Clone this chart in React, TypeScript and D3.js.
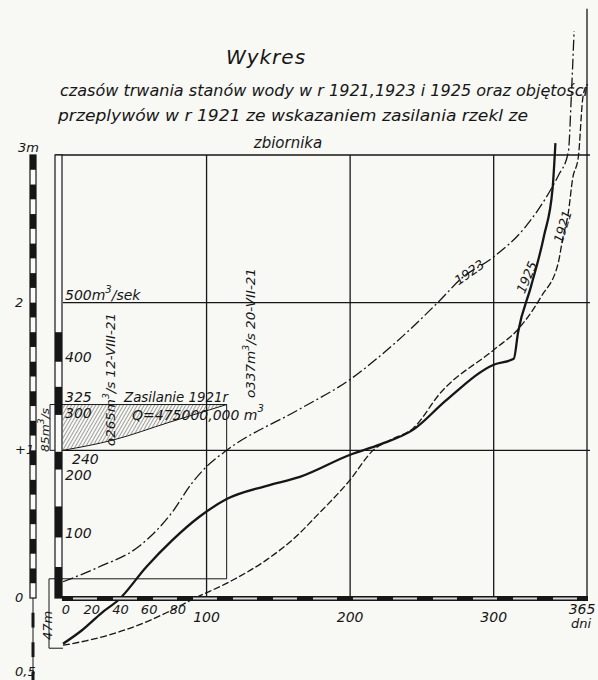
import React from "react";
import * as d3 from "d3";

// curves: water stage (m) against duration (days)
const days1923 = [0, 25, 53, 76, 90, 100, 114, 165, 200, 221, 263, 277, 300, 321, 340, 345, 352, 354, 356]
const stage1923 = [0.11, 0.21, 0.35, 0.58, 0.78, 0.89, 1.0, 1.28, 1.48, 1.64, 2.02, 2.16, 2.31, 2.5, 2.77, 2.86, 3.02, 3.38, 3.84]

const days1925 = [0, 13, 27, 39, 58, 76, 95, 114, 142, 165, 200, 221, 244, 267, 300, 314, 317, 326, 335, 341, 343]
const stage1925 = [-0.31, -0.22, -0.1, -0.01, 0.21, 0.39, 0.55, 0.67, 0.76, 0.82, 0.97, 1.04, 1.14, 1.34, 1.58, 1.62, 1.8, 2.11, 2.45, 2.77, 3.08]

const days1921 = [0, 16, 48, 72, 90, 118, 142, 165, 174, 200, 216, 228, 244, 263, 300, 317, 333, 345, 348, 352, 355, 359, 362, 364]
const stage1921 = [-0.32, -0.29, -0.2, -0.1, -0.01, 0.12, 0.26, 0.44, 0.53, 0.8, 1.0, 1.07, 1.15, 1.39, 1.68, 1.82, 2.04, 2.27, 2.43, 2.61, 2.84, 2.99, 3.38, 3.46]

// reservoir supply 1921 (hatched)
const supplyDays = [0, 35, 74, 114]
const supplyStage = [1.0, 1.07, 1.19, 1.31]
const supplyTop = 1.31
const supplyEnd = 114
const boxBottom = 0.13

const dayTicks = [0, 20, 40, 60, 80, 100, 200, 300, 365]
const gridDays = [100, 200, 300, 365]
const gridStages = [1, 2, 3]

const gaugeLabels = ["3m", "2", "+1", "0", "0,5"]
const gaugeStages = [3, 2, 1, 0, -0.5]

const qLabels = ["400", "325", "300", "240", "200", "100"]
const qStages = [1.64, 1.37, 1.26, 0.95, 0.84, 0.45]

// black parts of the discharge bar, in metres of stage
const qBarBlack = [[1.6, 1.8], [1.24, 1.43], [0.87, 0.99], [0.41, 0.62], [0, 0.21]]

const font = "'DejaVu Sans', sans-serif"
const ink = "#161616"

function App() {
    const width = 598
    const height = 680

    const x = d3.scaleLinear().domain([0, 365]).range([63, 587])
    const y = d3.scaleLinear().domain([0, 3]).range([598, 155])

    const line = d3.line().x(d => x(d[0])).y(d => y(d[1])).curve(d3.curveMonotoneX)
    const pts = (ds, ss) => ds.map((d, i) => [d, ss[i]])

    const hatchArea = d3.line().x(d => x(d[0])).y(d => y(d[1]))
    const supplyLine = d3.line().x(d => x(d[0])).y(d => y(d[1])).curve(d3.curveMonotoneX)

    const x0 = x(0)
    const txt = { fontFamily: font, fontStyle: "italic", fill: ink }

    // gauge staff segments every 0.1 m
    const staff = d3.range(0, 30).map(i => i / 10)
    const staffLow = d3.range(-0.9, 0, 0.1)

    return (
        <svg width={width} height={height} style={{ position: "absolute", left: 0, top: 0, background: "#f8f8f5" }}>
            <defs>
                <pattern id="hatch" width="3" height="3" patternUnits="userSpaceOnUse" patternTransform="rotate(30)">
                    <line x1="0" y1="0" x2="0" y2="3" stroke="#333" strokeWidth="0.9" />
                </pattern>
            </defs>

            {/* title */}
            <text x={266} y={64} style={{ ...txt, fontSize: 20, letterSpacing: 1 }} textAnchor="middle">Wykres</text>
            <text x={60} y={96} style={{ ...txt, fontSize: 15 }} textLength={528} lengthAdjust="spacingAndGlyphs">czasów trwania stanów wody w r 1921,1923 i 1925 oraz objętości</text>
            <text x={58} y={121} style={{ ...txt, fontSize: 15 }} textLength={470} lengthAdjust="spacingAndGlyphs">przeplywów w r 1921 ze wskazaniem  zasilania rzekl ze</text>
            <text x={288} y={148} style={{ ...txt, fontSize: 15 }} textAnchor="middle">zbiornika</text>

            {/* hatched supply */}
            <path d={hatchArea([[0, supplyTop], [supplyEnd, supplyTop], ...pts(supplyDays, supplyStage).reverse()])} fill="url(#hatch)" stroke="none" />
            <path d={supplyLine(pts(supplyDays, supplyStage))} fill="none" stroke={ink} strokeWidth={1} />

            {/* grid */}
            {gridStages.map(s => <line key={"h" + s} x1={s === 3 ? 55 : x0} x2={x(365) + 3} y1={y(s)} y2={y(s)} stroke={ink} strokeWidth={1.3} />)}
            {gridDays.map(d => <line key={"v" + d} x1={x(d)} x2={x(d)} y1={d === 365 ? y(3.99) : y(3)} y2={y(0)} stroke={ink} strokeWidth={1.3} />)}

            {/* supply box and brackets */}
            <path d={`M${x0},${y(supplyTop)} H${x(supplyEnd)} V${y(boxBottom)} H49 V${y(boxBottom - 0.47)} H${x0}`} fill="none" stroke={ink} strokeWidth={1} />
            <path d={`M${x0},${y(supplyTop)} H50 V${y(1)} H${x0}`} fill="none" stroke={ink} strokeWidth={1} />

            {/* curves */}
            <path d={line(pts(days1923, stage1923))} fill="none" stroke={ink} strokeWidth={1.3} strokeDasharray="11,3,2,3" />
            <path d={line(pts(days1921, stage1921))} fill="none" stroke={ink} strokeWidth={1.3} strokeDasharray="7,2.5" />
            <path d={line(pts(days1925, stage1925))} fill="none" stroke={ink} strokeWidth={2.3} />

            {/* bottom axis bar */}
            <rect x={x0 - 1} y={596} width={x(365) - x0 + 2} height={5} fill={ink} />
            <line x1={x0 + 10} x2={x(365) - 4} y1={598.5} y2={598.5} stroke="#d8d8d8" strokeWidth={2} strokeDasharray="24,16" />

            {/* discharge bar */}
            <rect x={55} y={y(3)} width={7} height={y(0) - y(3)} fill="#fafafa" stroke={ink} strokeWidth={1.2} />
            {qBarBlack.map((b, i) => <rect key={"q" + i} x={55} y={y(b[1])} width={7} height={y(b[0]) - y(b[1])} fill={ink} />)}

            {/* gauge staff */}
            <rect x={30} y={y(3)} width={6} height={y(0) - y(3)} fill="#fafafa" stroke={ink} strokeWidth={1.2} />
            {staff.map((s, i) => i % 2 === 0 ? null :
                <rect key={"s" + i} x={30} y={y(s + 0.1)} width={6} height={y(s) - y(s + 0.1)} fill={ink} />)}
            <line x1={33} x2={33} y1={y(0)} y2={height} stroke={ink} strokeWidth={1} />
            {staffLow.map((s, i) => i % 2 === 0 ? null :
                <rect key={"l" + i} x={31.5} y={y(s + 0.1)} width={3} height={y(s) - y(s + 0.1)} fill={ink} />)}

            {/* gauge labels */}
            {gaugeLabels.map((l, i) => <text key={l} x={l === "3m" ? 18 : 15} y={y(gaugeStages[i]) + (i === 0 ? -3 : 4)} style={{ ...txt, fontSize: 13 }}>{l}</text>)}

            {/* discharge labels */}
            <text x={65} y={y(2) - 3} style={{ ...txt, fontSize: 14 }}>500m<tspan dy={-7} fontSize={10}>3</tspan><tspan dy={7}>/sek</tspan></text>
            {qLabels.map((l, i) => <text key={l} x={l === "240" ? 72 : 65} y={y(qStages[i]) + 6} style={{ ...txt, fontSize: 14 }}>{l}</text>)}

            {/* day labels */}
            {dayTicks.map(d => <text key={"d" + d} x={d === 0 ? x(d) + 3 : d === 365 ? x(d) - 5 : x(d)} y={d >= 100 && d < 365 ? 622 : 614}
                textAnchor="middle" style={{ ...txt, fontSize: d >= 100 ? 14 : 13 }}>{d}</text>)}
            <text x={x(365) - 6} y={628} textAnchor="middle" style={{ ...txt, fontSize: 13 }}>dni</text>

            {/* annotations */}
            <text x={124} y={402} style={{ ...txt, fontSize: 14 }} textLength={104} lengthAdjust="spacingAndGlyphs">Zasilanie 1921r</text>
            <text x={132} y={420} style={{ ...txt, fontSize: 14 }}>Q=475000,000 m<tspan dy={-8} fontSize={10}>3</tspan></text>

            <text transform="translate(115,446) rotate(-90)" style={{ ...txt, fontSize: 13 }} textLength={133} lengthAdjust="spacingAndGlyphs">o265m<tspan dy={-6} fontSize={9}>3</tspan><tspan dy={6}>/s 12-VIII-21</tspan></text>
            <text transform="translate(255,398) rotate(-90)" style={{ ...txt, fontSize: 13 }} textLength={130} lengthAdjust="spacingAndGlyphs">o337m<tspan dy={-6} fontSize={9}>3</tspan><tspan dy={6}>/s 20-VII-21</tspan></text>
            <text transform="translate(49,452) rotate(-90)" style={{ ...txt, fontSize: 11 }} textLength={44} lengthAdjust="spacingAndGlyphs">85m<tspan dy={-5} fontSize={8}>3</tspan><tspan dy={5}>/s</tspan></text>
            <text transform="translate(52,640) rotate(-90)" style={{ ...txt, fontSize: 13 }}>47m</text>

            {/* year labels */}
            <text transform="translate(472,276) rotate(-35)" textAnchor="middle" style={{ ...txt, fontSize: 13 }}>1923</text>
            <text transform="translate(531,279) rotate(-67)" textAnchor="middle" style={{ ...txt, fontSize: 13 }}>1925</text>
            <text transform="translate(567,228) rotate(-73)" textAnchor="middle" style={{ ...txt, fontSize: 13 }}>1921</text>
        </svg>
    )
}

export default App
